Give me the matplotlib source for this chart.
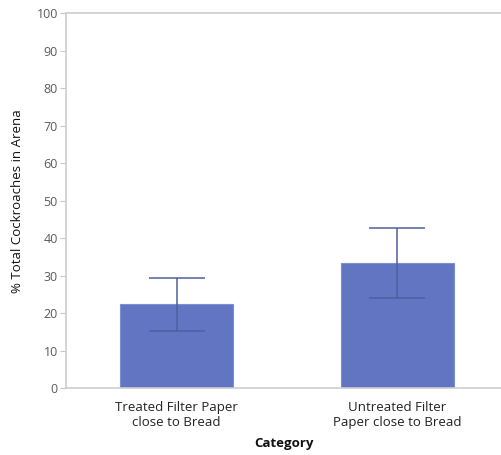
import matplotlib
matplotlib.use("Agg")
import matplotlib.pyplot as plt

# data
categories = ["Treated Filter Paper\nclose to Bread", "Untreated Filter\nPaper close to Bread"]
means = [22.4, 33.4]
errors = [7.1, 9.4]
yticks = [0, 10, 20, 30, 40, 50, 60, 70, 80, 90, 100]

plt.rcParams["font.family"] = ["Open Sans", "DejaVu Sans"]

fig = plt.figure(figsize=(5.01, 4.55), dpi=100)
ax = fig.add_axes([0.132, 0.147, 0.868, 0.824])

x = list(range(len(categories)))
ax.bar(x, means, width=0.51, color="#6175c3", edgecolor="#7d8fd0", linewidth=0.8, zorder=2)
ax.errorbar(x, means, yerr=errors, fmt="none", ecolor="#4f5f9e", elinewidth=1.1,
            capsize=20, capthick=1.1, zorder=3)

ax.set_xlim(-0.5, 1.47)
ax.set_ylim(0, 100)
ax.set_yticks(yticks)
ax.set_xticks(x)
ax.set_xticklabels(categories, fontsize=9.5, color="#222222", linespacing=1.25)
ax.tick_params(axis="x", length=0, pad=9)
ax.tick_params(axis="y", length=4, width=0.8, color="#c8c8cc", labelsize=9,
               labelcolor="#5a5a5a", pad=2)

ax.spines["right"].set_visible(False)
for s in ["left", "bottom", "top"]:
    ax.spines[s].set_color("#cdcdd2")
    ax.spines[s].set_linewidth(1.2)

ax.set_ylabel("% Total Cockroaches in Arena", fontsize=9.5, color="#111111", labelpad=9)
ax.set_xlabel("Category", fontsize=9.5, fontweight="bold", color="#111111", labelpad=6)

fig.savefig("out.png", dpi=100)
